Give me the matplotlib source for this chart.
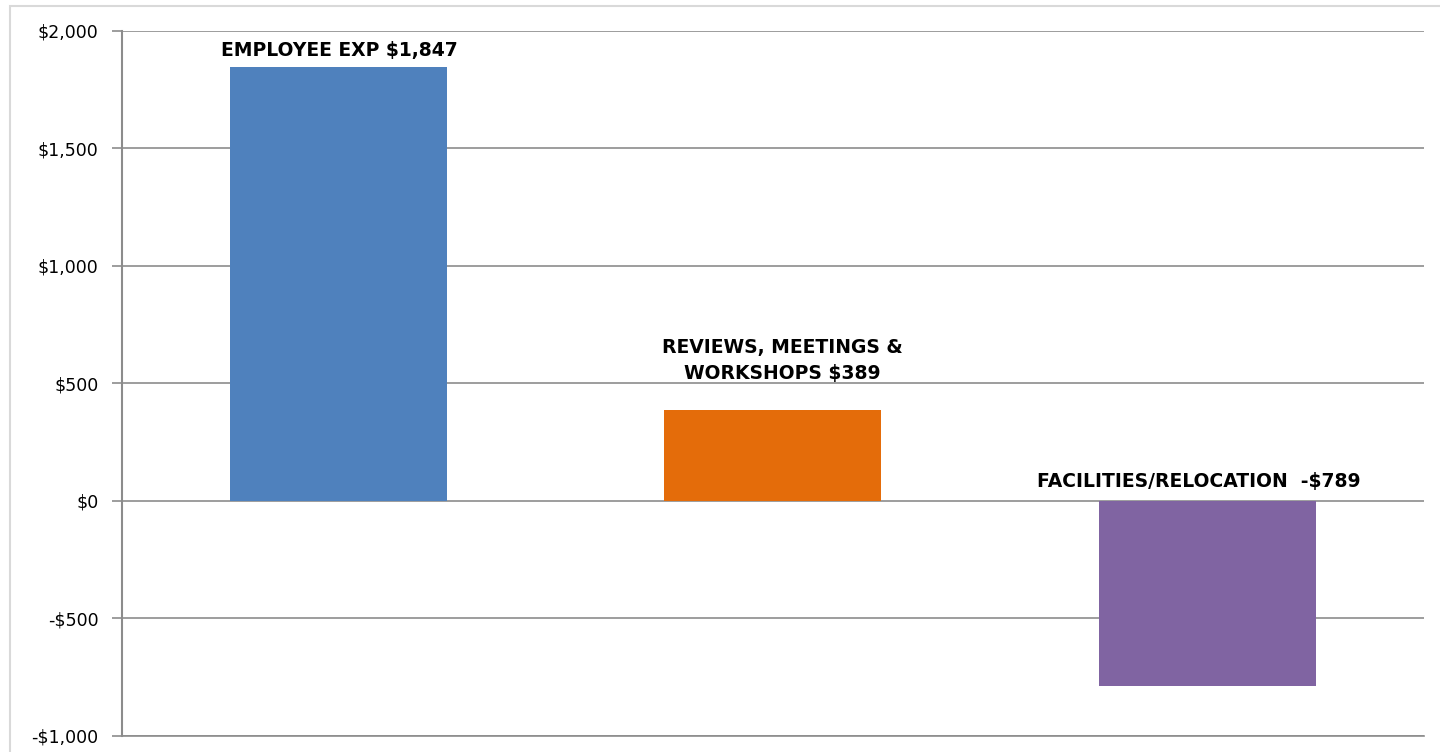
import matplotlib.pyplot as plt
import matplotlib.ticker as ticker
from matplotlib.patches import Rectangle

# Datos
categorias = ["EMPLOYEE EXP", "REVIEWS, MEETINGS &\nWORKSHOPS", "FACILITIES/RELOCATION "]
valores = [1847, 389, -789]
colores = ["#4f81bd", "#e46c0a", "#8064a2"]
etiquetas = ["EMPLOYEE EXP $1,847", "REVIEWS, MEETINGS &\nWORKSHOPS $389", "FACILITIES/RELOCATION  -$789"]
y_ticks = [-1000, -500, 0, 500, 1000, 1500, 2000]

plt.rcParams['font.family'] = ['DejaVu Sans']

fig = plt.figure(figsize=(14.4, 7.52), dpi=100)
ax = fig.add_axes([0.0847, 0.0213, 0.9042, 0.9375])

# Borde exterior del gráfico
fig.patches.append(Rectangle((10 / 1440, -0.01), 1.0, 1 - 6 / 752 + 0.01,
                             transform=fig.transFigure, fill=False,
                             edgecolor="#d9d9d9", linewidth=1.5))

x = list(range(len(valores)))
bars = ax.bar(x, valores, width=0.5, color=colores, zorder=3)

ax.set_xlim(-0.5, 2.5)
ax.set_ylim(-1000, 2000)
ax.set_yticks(y_ticks)
ax.yaxis.set_major_formatter(ticker.FuncFormatter(
    lambda v, _: f"-${abs(v):,.0f}" if v < 0 else f"${v:,.0f}"))
ax.set_xticks([])
ax.grid(True, axis='y', color="#8c8c8c", linewidth=1.2, zorder=1)
ax.tick_params(axis='y', length=7, width=1.2, color="#8c8c8c", labelsize=12.5, pad=10)

for side in ["top", "right"]:
    ax.spines[side].set_visible(False)
ax.spines["left"].set_color("#8c8c8c")
ax.spines["left"].set_linewidth(1.5)
ax.spines["bottom"].set_color("#8c8c8c")
ax.spines["bottom"].set_linewidth(1.2)

# Etiquetas de datos
offsets = [(0, 5), (7, 19), (-6, 7)]
for bar, texto, off in zip(bars, etiquetas, offsets):
    top = max(bar.get_height(), 0)
    ax.annotate(texto, (bar.get_x() + bar.get_width() / 2, top),
                xytext=off, textcoords="offset points",
                ha="center", va="bottom", fontsize=13.5, fontweight="bold",
                linespacing=1.45)

fig.savefig("out.png", dpi=100)
